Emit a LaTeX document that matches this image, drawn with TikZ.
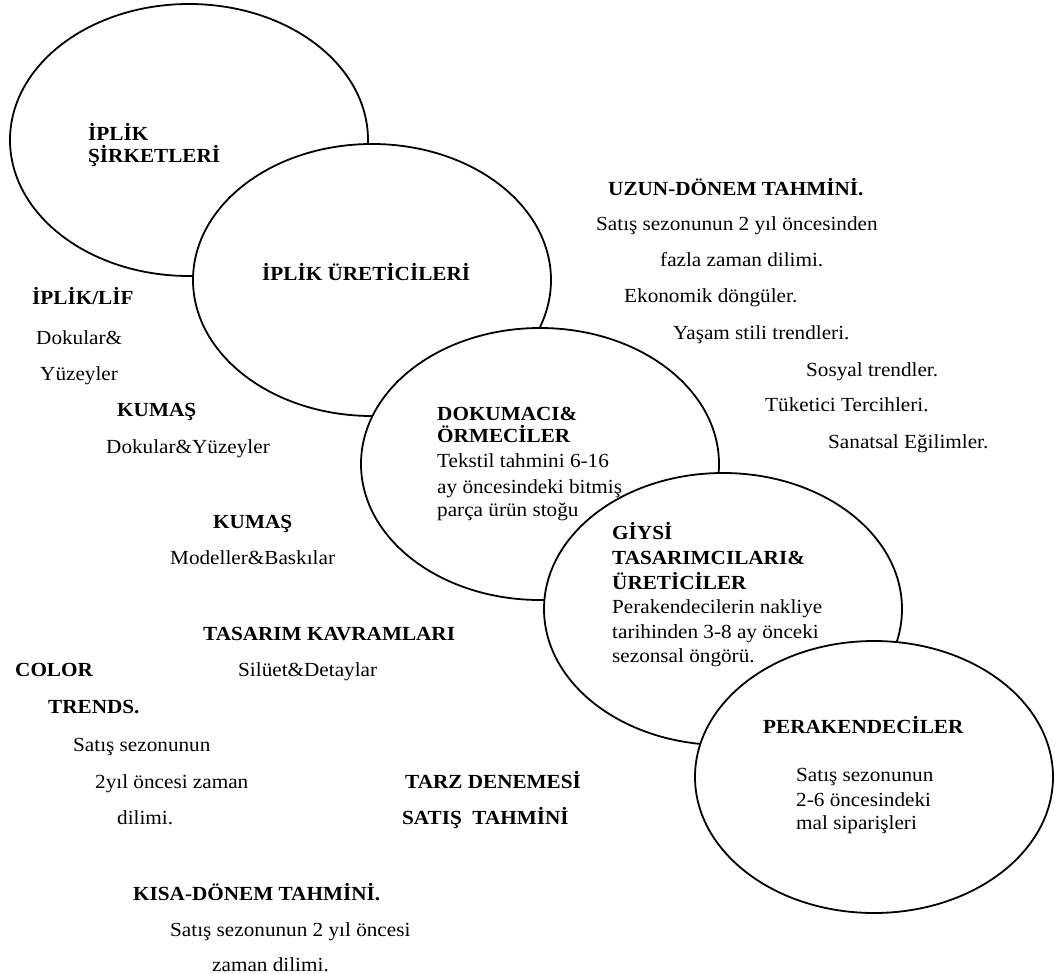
\documentclass[tikz,border=0pt]{standalone}
\usepackage{fontspec}
\setmainfont{Liberation Serif}[FakeStretch=1.06]
\usetikzlibrary{shapes.geometric}
\begin{document}
\begin{tikzpicture}[x=1pt,y=-1pt,
  stage/.style={ellipse, draw, fill=white, line width=1.8pt,
    minimum width=358pt, minimum height=272pt, inner sep=0pt},
  txt/.style={anchor=base west, inner sep=0pt, font=\fontsize{20}{24}\selectfont},
  head/.style={txt, font=\fontsize{20}{24}\selectfont\bfseries}]
\useasboundingbox (0,0) rectangle (1055,974);

% overlapping stages of the supply chain, each one drawn over the previous
\node[stage] (e1) at (189,140) {};
\node[stage] (e2) at (372,280) {};
\node[stage] (e3) at (540,464) {};
\node[stage] (e4) at (723,609) {};
\node[stage] (e5) at (874,777) {};

% texts inside the stages
\node[head] (t1a) at (88,140) {İPLİK};
\node[head] (t1b) at (88,162) {ŞİRKETLERİ};
\node[head] (t2) at (262,280) {İPLİK ÜRETİCİLERİ};
\node[head] (t3a) at (437,420) {DOKUMACI\&};
\node[head] (t3b) at (437,442) {ÖRMECİLER};
\node[txt] (t3c) at (437,467) {Tekstil tahmini 6-16};
\node[txt] (t3d) at (437,493) {ay öncesindeki bitmiş};
\node[txt] (t3e) at (437,516) {parça ürün stoğu};
\node[head] (t4a) at (612,539) {GİYSİ};
\node[head] (t4b) at (612,564) {TASARIMCILARI\&};
\node[head] (t4c) at (612,589) {ÜRETİCİLER};
\node[txt] (t4d) at (612,613) {Perakendecilerin nakliye};
\node[txt] (t4e) at (612,638) {tarihinden 3-8 ay önceki};
\node[txt] (t4f) at (612,662) {sezonsal öngörü.};
\node[head] (t5a) at (763,733) {PERAKENDECİLER};
\node[txt] (t5b) at (796,781) {Satış sezonunun};
\node[txt] (t5c) at (796,806) {2-6 öncesindeki};
\node[txt] (t5d) at (796,829) {mal siparişleri};

% long-term forecast
\node[head] (u1) at (608,195) {UZUN-DÖNEM TAHMİNİ.};
\node[txt] (u2) at (596,230) {Satış sezonunun 2 yıl öncesinden};
\node[txt] (u3) at (660,266) {fazla zaman dilimi.};
\node[txt] (u4) at (624,302) {Ekonomik döngüler.};
\node[txt] (u5) at (673,339) {Yaşam stili trendleri.};
\node[txt] (u6) at (806,376) {Sosyal trendler.};
\node[txt] (u7) at (765,411) {Tüketici Tercihleri.};
\node[txt] (u8) at (828,448) {Sanatsal Eğilimler.};

% left-hand labels
\node[head] (l1) at (32,304) {İPLİK/LİF};
\node[txt] (l2) at (36,344) {Dokular\&};
\node[txt] (l3) at (40,380) {Yüzeyler};
\node[head] (l4) at (117,416) {KUMAŞ};
\node[txt] (l5) at (106,453) {Dokular\&Yüzeyler};
\node[head] (l6) at (213,528) {KUMAŞ};
\node[txt] (l7) at (170,564) {Modeller\&Baskılar};
\node[head] (l8) at (203,640) {TASARIM KAVRAMLARI};
\node[txt] (l9) at (238,676) {Silüet\&Detaylar};

% colour trends
\node[head] (c1) at (15,676) {COLOR};
\node[head] (c2) at (48,713) {TRENDS.};
\node[txt] (c3) at (73,751) {Satış sezonunun};
\node[txt] (c4) at (95,788) {2yıl öncesi zaman};
\node[txt] (c5) at (117,824) {dilimi.};

% style testing
\node[head] (s1) at (405,788) {TARZ DENEMESİ};
\node[head] (s2) at (402,824) {SATIŞ\ \ TAHMİNİ};

% short-term forecast
\node[head] (k1) at (133,900) {KISA-DÖNEM TAHMİNİ.};
\node[txt] (k2) at (170,936) {Satış sezonunun 2 yıl öncesi};
\node[txt] (k3) at (212,971) {zaman dilimi.};
\end{tikzpicture}
\end{document}
